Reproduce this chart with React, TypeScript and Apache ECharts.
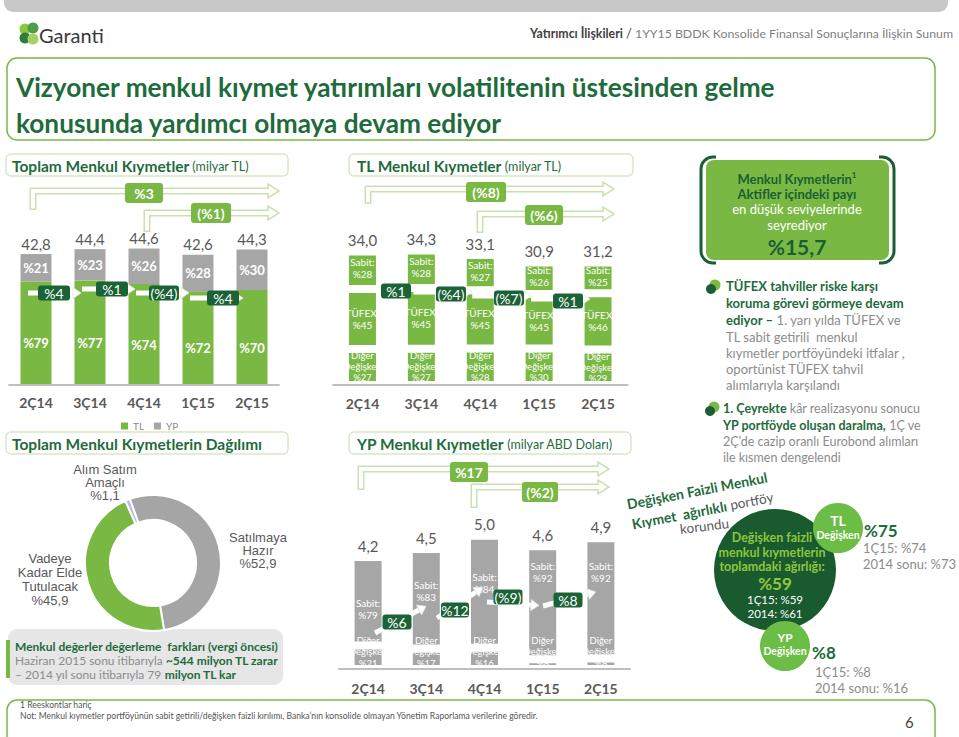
import React, { useEffect, useRef } from "react";
import * as echarts from "echarts";

// ---------- DATA ----------
const quarters = ["2Ç14", "3Ç14", "4Ç14", "1Ç15", "2Ç15"];

const totalSecurities = [42.8, 44.4, 44.6, 42.6, 44.3];
const tlSharePct = [79, 77, 74, 72, 70];
const fxSharePct = [21, 23, 26, 28, 30];
const totalGrowthQoQ = ["%4", "%1", "(%4)", "%4"];
const totalGrowthLong = ["%3", "(%1)"];

const tlSecurities = [34.0, 34.3, 33.1, 30.9, 31.2];
const tlFixedPct = [28, 28, 27, 26, 25];
const tlCpiPct = [45, 45, 45, 45, 46];
const tlOtherFrnPct = [27, 27, 28, 30, 29];
const tlGrowthQoQ = ["%1", "(%4)", "(%7)", "%1"];
const tlGrowthLong = ["(%8)", "(%6)"];

const fxSecurities = [4.2, 4.5, 5.0, 4.6, 4.9];
const fxFixedPct = [79, 83, 84, 92, 92];
const fxOtherFrnPct = [21, 17, 16, 8, 8];
const fxGrowthQoQ = ["%6", "%12", "(%9)", "%8"];
const fxGrowthLong = ["%17", "(%2)"];

const portfolioNames = ["Satılmaya Hazır", "Vadeye Kadar Elde Tutulacak", "Alım Satım Amaçlı"];
const portfolioLabelLines = [["Satılmaya", "Hazır"], ["Vadeye", "Kadar Elde", "Tutulacak"], ["Alım Satım", "Amaçlı"]];
const portfolioPct = [52.9, 45.9, 1.1];

// ---------- STYLE ----------
const F = 'Lato, "Open Sans", sans-serif';
const A = '"Liberation Sans", Arial, sans-serif';
const GREEN = "#7ab844";
const GREY = "#a6a6a6";
const DARK = "#1b6236";
const TITLE = "#1e6b3b";
const TXT = "#595959";
const LIGHTTXT = "#8c8c8c";
const OUTLINE = "#c9e1b0";
// label nudges for the FX "Sabit" segments (layout only)
const fxFixedLabelNudge = [8, -8, -9, -31, -26];

const fmt = (v: number) => v.toFixed(1).replace(".", ",");

function buildOption() {
  const G: any[] = [];
  const txt = (text: string, x: number, y: number, o: any = {}) =>
    G.push({
      type: "text",
      x,
      y,
      z: o.z ?? 100,
      rotation: o.rotation ?? 0,
      style: {
        text,
        fill: o.color ?? TXT,
        fontSize: o.size ?? 12,
        fontWeight: o.bold ? "bold" : "normal",
        fontFamily: o.family ?? F,
        align: o.align ?? "left",
        textAlign: o.align ?? "left",
        verticalAlign: o.va ?? "middle",
        textVerticalAlign: o.va ?? "middle",
        lineHeight: o.lh,
        rich: o.rich,
      },
    });
  const rect = (x: number, y: number, w: number, h: number, o: any = {}) =>
    G.push({
      type: "rect",
      z: o.z ?? 10,
      shape: { x, y, width: w, height: h, r: o.r ?? 0 },
      style: { fill: o.fill ?? "none", stroke: o.stroke ?? "none", lineWidth: o.lw ?? 1 },
    });
  const circle = (cx: number, cy: number, r: number, fill: string, z = 20) =>
    G.push({ type: "circle", z, shape: { cx, cy, r }, style: { fill } });

  const box = (label: string, cx: number, cy: number, w: number, h: number, fill: string, bold: boolean, z = 70) => {
    rect(cx - w / 2, cy - h / 2, w, h, { fill, r: 3, z });
    txt(label, cx, cy + 0.5, { align: "center", color: "#fff", size: 14, bold, z: z + 1 });
  };

  const hollowArrow = (x: number, yB: number, yH: number, xEnd: number) => {
    G.push({ type: "polyline", z: 40, shape: { points: [[x, yB], [x, yH], [xEnd, yH]] }, style: { stroke: OUTLINE, lineWidth: 7, fill: "none", lineJoin: "miter", lineCap: "butt" } });
    G.push({ type: "polyline", z: 41, shape: { points: [[x, yB - 1.5], [x, yH], [xEnd + 1, yH]] }, style: { stroke: "#fff", lineWidth: 4, fill: "none", lineJoin: "miter", lineCap: "butt" } });
    G.push({ type: "polygon", z: 42, shape: { points: [[xEnd, yH - 7], [xEnd + 11, yH], [xEnd, yH + 7]] }, style: { fill: "#fff", stroke: "none" } });
    G.push({ type: "polyline", z: 43, shape: { points: [[xEnd, yH - 2], [xEnd, yH - 7], [xEnd + 11, yH], [xEnd, yH + 7], [xEnd, yH + 2]] }, style: { stroke: OUTLINE, lineWidth: 1.5, fill: "none" } });
  };

  const whiteArrow = (x1: number, y1: number, x2: number, y2: number) => {
    const ang = Math.atan2(y2 - y1, x2 - x1);
    G.push({ type: "line", z: 60, shape: { x1, y1, x2, y2 }, style: { stroke: "#fff", lineWidth: 5 } });
    const L = 8, W = 5.5;
    const tip = [x2 + Math.cos(ang) * L, y2 + Math.sin(ang) * L];
    const p1 = [x2 + Math.cos(ang + Math.PI / 2) * W, y2 + Math.sin(ang + Math.PI / 2) * W];
    const p2 = [x2 - Math.cos(ang + Math.PI / 2) * W, y2 - Math.sin(ang + Math.PI / 2) * W];
    G.push({ type: "polygon", z: 60, shape: { points: [p1, tip, p2] }, style: { fill: "#fff", stroke: "#e4e4e4", lineWidth: 0.8 } });
  };

  // ---- header ----
  rect(4, -12, 944, 24, { fill: "#c8c8c8", r: 9, z: 1 });
  circle(25, 29, 5.5, "#8dc63f");
  circle(33, 28, 5.5, "#4f9e45");
  circle(25, 38, 5.5, "#2f7d3a");
  circle(33, 39, 5.5, "#a3d06b");
  txt("Garanti", 39, 35, { size: 20, color: "#3a3a3a" });
  txt("{b|Yatırımcı İlişkileri} {d|/} 1YY15 BDDK Konsolide Finansal Sonuçlarına İlişkin Sunum", 953, 33, {
    align: "right",
    size: 12.3,
    color: "#7f7f7f",
    rich: {
      b: { fontWeight: "bold", fill: "#3f3f3f", color: "#3f3f3f", fontSize: 12.3, fontFamily: F },
      d: { fill: "#3f3f3f", color: "#3f3f3f", fontSize: 13, fontFamily: F },
    },
  });

  // ---- title ----
  rect(7, 58, 928, 82, { stroke: GREEN, lw: 1.5, r: 10, z: 1 });
  txt("Vizyoner menkul kıymet yatırımları volatilitenin üstesinden gelme", 16, 87, { size: 26.2, bold: true, color: TITLE });
  txt("konusunda yardımcı olmaya devam ediyor", 16, 123, { size: 26.2, bold: true, color: TITLE });

  // ---- section header boxes ----
  const secRich = {
    b: { fontWeight: "bold", fill: TITLE, color: TITLE, fontSize: 15.5, fontFamily: F },
    s: { fill: TITLE, color: TITLE, fontSize: 12.5, fontFamily: F },
  };
  rect(6, 154, 282, 22, { stroke: "#d6e9c6", lw: 1.5, r: 5, z: 1 });
  txt("{b|Toplam Menkul Kıymetler} {s|(milyar TL)}", 12, 166, { rich: secRich });
  rect(349, 154, 284, 22, { stroke: "#d6e9c6", lw: 1.5, r: 5, z: 1 });
  txt("{b|TL Menkul Kıymetler} {s|(milyar TL)}", 357, 166, { rich: secRich });
  rect(349, 432, 282, 22, { stroke: "#d6e9c6", lw: 1.5, r: 5, z: 1 });
  txt("{b|YP Menkul Kıymetler} {s|(milyar ABD Doları)}", 357, 444, { rich: secRich });
  rect(6, 432, 282, 22, { stroke: "#d6e9c6", lw: 1.5, r: 5, z: 1 });
  txt("{b|Toplam Menkul Kıymetlerin Dağılımı}", 12, 444, { rich: secRich });

  // ---- long-term hollow arrows ----
  hollowArrow(33, 210, 191, 268);
  box(totalGrowthLong[0], 144, 193, 38, 20, GREEN, true);
  hollowArrow(147, 232, 213, 268);
  box(totalGrowthLong[1], 211, 213, 40, 20, GREEN, true);

  hollowArrow(368, 204, 189, 603);
  box(tlGrowthLong[0], 486, 192, 40, 20, GREEN, true);
  hollowArrow(480, 233, 214, 603);
  box(tlGrowthLong[1], 544, 215, 38, 20, GREEN, true);

  hollowArrow(361, 490, 469, 598);
  box(fxGrowthLong[0], 469, 472, 38, 20, GREEN, true);
  hollowArrow(474, 508, 487, 598);
  box(fxGrowthLong[1], 540, 492, 36, 20, GREEN, true);

  // ---- quarter-on-quarter growth boxes ----
  const cL = quarters.map((_, i) => 9 + 27 + 54 * i);
  const cT = quarters.map((_, i) => 333 + 29.45 + 58.9 * i);

  const yL = [293, 289, 293, 298];
  const xL = [54, 112, 164, 223];
  totalGrowthQoQ.forEach((g, i) => {
    whiteArrow(cL[i] - 8, yL[i], cL[i + 1] - 17, yL[i]);
    box(g, xL[i], yL[i], i === 2 ? 30 : 32, 15, DARK, false);
  });
  const yT = [291, 294, 298, 301];
  const xT = [396, 451, 509, 568];
  tlGrowthQoQ.forEach((g, i) => {
    whiteArrow(cT[i] - 8, yT[i] - 2, cT[i + 1] - 16, yT[i] - 2);
    box(g, xT[i], yT[i], 30, 15, DARK, false);
  });
  const yB = [622, 610, 597, 600];
  const xB = [397, 455, 508, 568];
  const arrB = [[375, 633, 419, 610], [437, 618, 476, 592], [487, 602, 531, 605], [543, 606, 588, 594]];
  fxGrowthQoQ.forEach((g, i) => {
    const a = arrB[i];
    whiteArrow(a[0], a[1], a[2], a[3]);
    box(g, xB[i], yB[i], i === 1 ? 28 : 29, 15, DARK, false);
  });

  // ---- donut labels ----
  const pieLabelPos = [[258, 537], [50, 558], [105, 469]];
  portfolioLabelLines.forEach((lines, i) => {
    const all = [...lines, "%" + fmt(portfolioPct[i])];
    const lh = i === 1 ? 14.3 : 13.3;
    all.forEach((l, k) => txt(l, pieLabelPos[i][0], pieLabelPos[i][1] + k * lh, { align: "center", size: 13, family: A, color: TXT }));
  });

  // ---- valuation box ----
  rect(8, 629, 275, 56, { fill: "#e6e6e6", r: 9, z: 1 });
  rect(6, 640, 4, 38, { fill: GREEN, z: 2 });
  const bRich = { b: { fontWeight: "bold", fill: TITLE, color: TITLE, fontSize: 12, fontFamily: F } };
  txt("Menkul değerler değerleme  farkları (vergi öncesi)", 15, 646, { size: 12, bold: true, color: TITLE });
  txt("Haziran 2015 sonu itibarıyla {b|~544 milyon TL zarar}", 15, 660, { size: 12, color: LIGHTTXT, rich: bRich });
  txt("– 2014 yıl sonu itibarıyla 79 {b|milyon TL kar}", 15, 674, { size: 12, color: LIGHTTXT, rich: bRich });

  // ---- right panel box ----
  rect(701, 157, 193, 106, { stroke: "#1b5e33", lw: 3, r: 12, z: 5 });
  rect(716, 150, 163, 12, { fill: "#fff", z: 6 });
  rect(716, 258, 163, 12, { fill: "#fff", z: 6 });
  rect(706, 160, 183, 100, { fill: GREEN, r: 8, z: 7 });
  txt("Menkul Kıymetlerin{sup|1}", 797, 179, {
    align: "center", size: 13, bold: true, color: "#1b5e33",
    rich: { sup: { fontSize: 8, fontWeight: "bold", fill: "#1b5e33", color: "#1b5e33", verticalAlign: "top", padding: [0, 0, 8, 0], fontFamily: F } },
  });
  txt("Aktifler içindeki payı", 797, 194, { align: "center", size: 13, bold: true, color: "#1b5e33" });
  txt("en düşük seviyelerinde", 797, 209, { align: "center", size: 13, color: "#fff" });
  txt("seyrediyor", 797, 225, { align: "center", size: 13, color: "#fff" });
  txt("%15,7", 797, 246, { align: "center", size: 21, bold: true, color: "#1b5e33" });

  // bullets
  const bullet = (x: number, y: number) => {
    circle(x + 4, y - 3, 5.5, GREEN, 20);
    circle(x, y + 1, 5, "#1b5e33", 21);
  };
  const bR = { b: { fontWeight: "bold", fill: TITLE, color: TITLE, fontSize: 13, fontFamily: F } };
  bullet(711, 288);
  txt("TÜFEX tahviller riske karşı", 726, 286, { size: 13, bold: true, color: TITLE });
  txt("koruma görevi görmeye devam", 726, 303, { size: 13, bold: true, color: TITLE });
  txt("{b|ediyor –} 1. yarı yılda TÜFEX ve", 726, 320, { size: 13, color: LIGHTTXT, rich: bR });
  txt("TL sabit getirili  menkul", 726, 337, { size: 13, color: LIGHTTXT });
  txt("kıymetler portföyündeki itfalar ,", 726, 353, { size: 13, color: LIGHTTXT });
  txt("oportünist TÜFEX tahvil", 726, 369, { size: 13, color: LIGHTTXT });
  txt("alımlarıyla karşılandı", 726, 385, { size: 13, color: LIGHTTXT });

  const bR2 = { b: { fontWeight: "bold", fill: TITLE, color: TITLE, fontSize: 12.5, fontFamily: F } };
  bullet(710, 410);
  txt("{b|1. Çeyrekte} kâr realizasyonu sonucu", 723, 408, { size: 12.5, color: LIGHTTXT, rich: bR2 });
  txt("{b|YP portföyde oluşan daralma,} 1Ç ve", 723, 425, { size: 12.5, color: LIGHTTXT, rich: bR2 });
  txt("2Ç’de cazip oranlı Eurobond alımları", 723, 441, { size: 12.5, color: LIGHTTXT });
  txt("ile kısmen dengelendi", 723, 457, { size: 12.5, color: LIGHTTXT });

  // rotated caption
  const rot = 0.19;
  txt("Değişken Faizli Menkul", 627, 504, { size: 14, bold: true, color: TITLE, rotation: rot });
  txt("{b|Kıymet  ağırlıklı} portföy", 632, 524, {
    size: 13.5, color: TXT, rotation: rot,
    rich: { b: { fontWeight: "bold", fill: TITLE, color: TITLE, fontSize: 14, fontFamily: F } },
  });
  txt("korundu", 680, 529, { size: 13.5, color: TXT, rotation: 0.12 });

  // circles
  circle(775, 570, 61, "#195b2e", 20);
  circle(838, 528, 25, "#6cbd45", 22);
  circle(785, 646, 25, "#6cbd45", 22);
  const LG = "#8dc63f";
  txt("Değişken faizli", 772, 537, { align: "center", size: 12.5, bold: true, color: LG, z: 101 });
  txt("menkul kıymetlerin", 772, 552, { align: "center", size: 12.5, bold: true, color: LG, z: 101 });
  txt("toplamdaki ağırlığı:", 772, 566, { align: "center", size: 12.5, bold: true, color: LG, z: 101 });
  txt("%59", 775, 583, { align: "center", size: 17, bold: true, color: LG, z: 101 });
  txt("1Ç15: %59", 775, 599, { align: "center", size: 11.5, color: "#fff", z: 101 });
  txt("2014: %61", 775, 613, { align: "center", size: 11.5, color: "#fff", z: 101 });
  txt("TL", 838, 520, { align: "center", size: 14, bold: true, color: "#fff", z: 101 });
  txt("Değişken", 838, 535, { align: "center", size: 10.5, bold: true, color: "#fff", z: 101 });
  txt("YP", 785, 637, { align: "center", size: 12, bold: true, color: "#fff", z: 101 });
  txt("Değişken", 785, 651, { align: "center", size: 10.5, bold: true, color: "#fff", z: 101 });

  txt("%75", 864, 530, { size: 17, bold: true, color: TITLE });
  txt("1Ç15: %74", 863, 548, { size: 13, color: LIGHTTXT });
  txt("2014 sonu: %73", 863, 564, { size: 13, color: LIGHTTXT });
  txt("%8", 812, 652, { size: 17, bold: true, color: TITLE });
  txt("1Ç15: %8", 815, 672, { size: 13, color: LIGHTTXT });
  txt("2014 sonu: %16", 815, 688, { size: 13, color: LIGHTTXT });

  // ---- footer ----
  rect(7, 700, 928, 60, { stroke: GREEN, lw: 1.5, r: 10, z: 1 });
  txt("1 Reeskontlar hariç", 20, 705, { size: 8.6, color: "#555" });
  txt("Not: Menkul kıymetler portföyünün sabit getirili/değişken faizli kırılımı, Banka’nın konsolide olmayan Yönetim Raporlama verilerine göredir.", 20, 716, { size: 8.6, color: "#555" });
  txt("6", 905, 722, { size: 15, color: "#444" });

  // ---------- series ----------
  const segLabel = (extra: any) => ({ show: true, color: "#fff", fontFamily: F, ...extra });
  const axisLabel = (margin: number) => ({ fontSize: 14, fontWeight: "bold", color: TXT, fontFamily: F, margin });
  const xAx = (gi: number, margin: number) => ({
    type: "category", gridIndex: gi, data: quarters, z: 5,
    axisTick: { show: false }, axisLine: { lineStyle: { color: "#bfbfbf", width: 2 } }, axisLabel: axisLabel(margin),
  });
  const yAx = (gi: number, max: number) => ({ type: "value", gridIndex: gi, min: 0, max, show: false, splitLine: { show: false } });
  const zeros = quarters.map(() => 0);
  const gapStyle = (color: string) => ({ color, borderColor: "#fff", borderWidth: 4 });

  const series: any[] = [
    // left chart
    {
      name: "TL", type: "bar", stack: "total", xAxisIndex: 0, yAxisIndex: 0, barWidth: 31,
      data: totalSecurities.map((t, i) => +(t * tlSharePct[i] / 100).toFixed(2)),
      itemStyle: { color: GREEN },
      label: segLabel({ position: "inside", offset: [0, 10], fontSize: 13, fontWeight: "bold", formatter: (p: any) => "%" + tlSharePct[p.dataIndex] }),
    },
    {
      name: "YP", type: "bar", stack: "total", xAxisIndex: 0, yAxisIndex: 0, barWidth: 31,
      data: totalSecurities.map((t, i) => +(t * fxSharePct[i] / 100).toFixed(2)),
      itemStyle: { color: GREY },
      label: segLabel({ position: "inside", fontSize: 13, fontWeight: "bold", formatter: (p: any) => "%" + fxSharePct[p.dataIndex] }),
    },
    {
      name: "Toplam", type: "bar", stack: "total", xAxisIndex: 0, yAxisIndex: 0, barWidth: 31, data: zeros, silent: true,
      itemStyle: { color: "transparent" },
      label: { show: true, position: "top", distance: 3, fontSize: 15, color: TXT, fontFamily: F, formatter: (p: any) => fmt(totalSecurities[p.dataIndex]) },
    },
    // TL securities
    {
      name: "Diğer Değişken", type: "bar", stack: "tl", xAxisIndex: 1, yAxisIndex: 1, barWidth: 35,
      data: tlSecurities.map((t, i) => +(t * tlOtherFrnPct[i] / 100).toFixed(2)),
      itemStyle: gapStyle(GREEN),
      label: segLabel({ position: "inside", fontSize: 9.5, lineHeight: 11, formatter: (p: any) => "Diğer\nDeğişken\n%" + tlOtherFrnPct[p.dataIndex] }),
    },
    {
      name: "TÜFEX", type: "bar", stack: "tl", xAxisIndex: 1, yAxisIndex: 1, barWidth: 35,
      data: tlSecurities.map((t, i) => +(t * tlCpiPct[i] / 100).toFixed(2)),
      itemStyle: gapStyle(GREEN),
      label: segLabel({ position: "inside", fontSize: 10, lineHeight: 12, formatter: (p: any) => "TÜFEX:\n%" + tlCpiPct[p.dataIndex] }),
    },
    {
      name: "Sabit", type: "bar", stack: "tl", xAxisIndex: 1, yAxisIndex: 1, barWidth: 35,
      data: tlSecurities.map((t, i) => +(t * tlFixedPct[i] / 100).toFixed(2)),
      itemStyle: gapStyle(GREEN),
      label: segLabel({ position: "inside", offset: [0, -2], fontSize: 10, lineHeight: 12, formatter: (p: any) => "Sabit:\n%" + tlFixedPct[p.dataIndex] }),
    },
    {
      name: "TL Toplam", type: "bar", stack: "tl", xAxisIndex: 1, yAxisIndex: 1, barWidth: 35, data: zeros, silent: true,
      itemStyle: { color: "transparent" },
      label: { show: true, position: "top", distance: 4, fontSize: 15, color: TXT, fontFamily: F, formatter: (p: any) => fmt(tlSecurities[p.dataIndex]) },
    },
    // FX securities
    {
      name: "YP Diğer Değişken", type: "bar", stack: "yp", xAxisIndex: 2, yAxisIndex: 2, barWidth: 35,
      data: fxSecurities.map((t, i) => +(t * fxOtherFrnPct[i] / 100).toFixed(3)),
      itemStyle: gapStyle(GREY),
      label: segLabel({ position: "insideBottom", distance: 0, fontSize: 9.5, lineHeight: 11.5, formatter: (p: any) => "Diğer\nDeğişken\n%" + fxOtherFrnPct[p.dataIndex] }),
    },
    {
      name: "YP Sabit", type: "bar", stack: "yp", xAxisIndex: 2, yAxisIndex: 2, barWidth: 35,
      data: fxSecurities.map((t, i) => ({
        value: +(t * fxFixedPct[i] / 100).toFixed(3),
        label: { offset: [0, fxFixedLabelNudge[i]] },
      })),
      itemStyle: gapStyle(GREY),
      label: segLabel({ position: "inside", fontSize: 10, lineHeight: 12, formatter: (p: any) => "Sabit:\n%" + fxFixedPct[p.dataIndex] }),
    },
    {
      name: "YP Toplam", type: "bar", stack: "yp", xAxisIndex: 2, yAxisIndex: 2, barWidth: 35, data: zeros, silent: true,
      itemStyle: { color: "transparent" },
      label: { show: true, position: "top", distance: 4, fontSize: 15, color: TXT, fontFamily: F, formatter: (p: any) => fmt(fxSecurities[p.dataIndex]) },
    },
    // donut
    {
      name: "Dağılım", type: "pie", center: [153, 563], radius: [43, 68], startAngle: 110, clockwise: true,
      label: { show: false }, labelLine: { show: false },
      itemStyle: { borderColor: "#fff", borderWidth: 2 },
      data: portfolioNames.map((n, i) => ({ name: n, value: portfolioPct[i], itemStyle: { color: ["#a5a5a5", GREEN, "#b9b9dd"][i] } })),
    },
  ];

  return {
    animation: false,
    backgroundColor: "#fff",
    textStyle: { fontFamily: F },
    legend: {
      data: ["TL", "YP"], left: 116, top: 416, itemWidth: 7, itemHeight: 7, itemGap: 10, icon: "rect",
      textStyle: { fontSize: 10, color: LIGHTTXT, fontFamily: F },
    },
    grid: [
      { left: 9, top: 232, width: 270, height: 153 },
      { left: 333, top: 228, width: 294.5, height: 157 },
      { left: 339, top: 509, width: 291, height: 160 },
    ],
    xAxis: [xAx(0, 10), xAx(1, 11), xAx(2, 12)],
    yAxis: [yAx(0, 50), yAx(1, 40), yAx(2, 6)],
    series,
    graphic: { elements: G },
  };
}

export default function App() {
  const ref = useRef<HTMLDivElement>(null);
  useEffect(() => {
    const chart = echarts.init(ref.current!, null, { renderer: "svg", width: 959, height: 737 });
    chart.setOption(buildOption() as any);
    return () => chart.dispose();
  }, []);
  return <div ref={ref} style={{ position: "fixed", left: 0, top: 0, width: 959, height: 737, background: "#fff" }} />;
}
